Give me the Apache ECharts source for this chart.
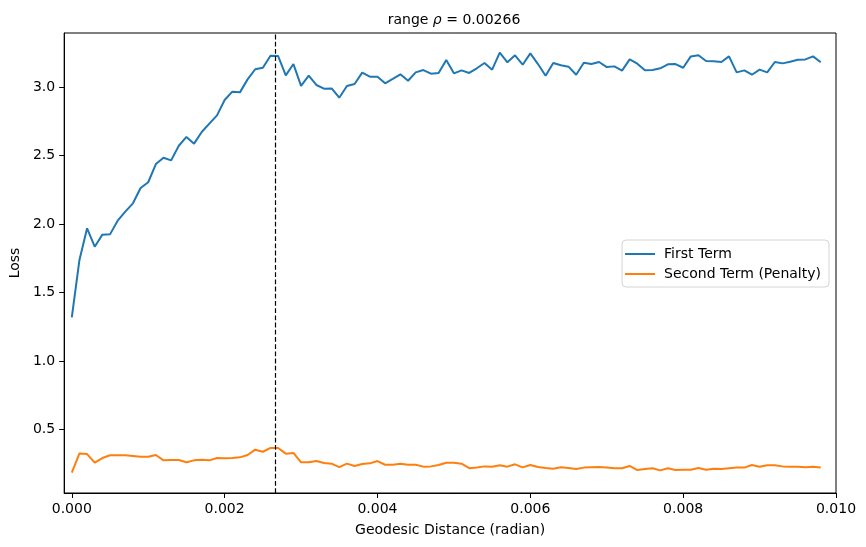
<!DOCTYPE html>
<html>
<head>
<meta charset="utf-8">
<script src="https://cdn.jsdelivr.net/npm/echarts@6/dist/echarts.min.js"></script>
<style>
html,body{margin:0;padding:0;background:#fff;}
#chart{width:866px;height:547px;}
</style>
</head>
<body>
<div id="chart"></div>
<script>
// Data
const distances = [0,0.0001,0.0002,0.0003,0.0004,0.0005,0.0006,0.0007,0.0008,0.0009,
0.0010,0.0011,0.0012,0.0013,0.0014,0.0015,0.0016,0.0017,0.0018,0.0019,
0.0020,0.0021,0.0022,0.0023,0.0024,0.0025,0.0026,0.0027,0.0028,0.0029,
0.0030,0.0031,0.0032,0.0033,0.0034,0.0035,0.0036,0.0037,0.0038,0.0039,
0.0040,0.0041,0.0042,0.0043,0.0044,0.0045,0.0046,0.0047,0.0048,0.0049,
0.0050,0.0051,0.0052,0.0053,0.0054,0.0055,0.0056,0.0057,0.0058,0.0059,
0.0060,0.0061,0.0062,0.0063,0.0064,0.0065,0.0066,0.0067,0.0068,0.0069,
0.0070,0.0071,0.0072,0.0073,0.0074,0.0075,0.0076,0.0077,0.0078,0.0079,
0.0080,0.0081,0.0082,0.0083,0.0084,0.0085,0.0086,0.0087,0.0088,0.0089,
0.0090,0.0091,0.0092,0.0093,0.0094,0.0095,0.0096,0.0097,0.0098];

const firstTerm = [1.319,1.738,1.969,1.835,1.923,1.925,2.025,2.091,2.152,2.264,
2.306,2.439,2.485,2.466,2.573,2.637,2.588,2.673,2.734,2.795,
2.907,2.968,2.963,3.058,3.132,3.143,3.231,3.228,3.087,3.170,
3.010,3.085,3.017,2.990,2.992,2.924,3.010,3.024,3.107,3.078,
3.078,3.029,3.061,3.095,3.048,3.109,3.126,3.100,3.105,3.200,
3.102,3.124,3.105,3.139,3.178,3.129,3.253,3.183,3.234,3.165,
3.248,3.170,3.085,3.178,3.161,3.151,3.092,3.180,3.170,3.185,
3.148,3.153,3.122,3.204,3.173,3.124,3.126,3.139,3.168,3.170,
3.143,3.226,3.234,3.192,3.190,3.185,3.226,3.109,3.124,3.092,
3.129,3.109,3.185,3.175,3.187,3.202,3.204,3.226,3.183];

const secondTerm = [0.183,0.324,0.319,0.256,0.290,0.310,0.310,0.310,0.305,0.300,
0.300,0.312,0.273,0.276,0.276,0.259,0.273,0.278,0.273,0.290,
0.288,0.290,0.295,0.312,0.351,0.336,0.364,0.363,0.322,0.327,
0.259,0.259,0.268,0.254,0.249,0.224,0.249,0.232,0.246,0.251,
0.268,0.241,0.241,0.249,0.241,0.241,0.227,0.229,0.239,0.256,
0.256,0.249,0.216,0.221,0.229,0.227,0.237,0.227,0.244,0.222,
0.239,0.224,0.217,0.212,0.222,0.217,0.210,0.220,0.222,0.224,
0.220,0.215,0.215,0.232,0.202,0.210,0.215,0.200,0.215,0.202,
0.205,0.205,0.217,0.205,0.212,0.210,0.215,0.220,0.220,0.239,
0.227,0.237,0.237,0.229,0.227,0.227,0.222,0.227,0.220];

const rangeRho = 0.00266;
const xTicks = [0, 0.002, 0.004, 0.006, 0.008, 0.010];
const yTicks = [0.5, 1.0, 1.5, 2.0, 2.5, 3.0];
const seriesNames = ['First Term', 'Second Term (Penalty)'];

const FONT = 'DejaVu Sans';
const X_MIN = -0.0001, X_MAX = 0.010, Y_MIN = 0.0344, Y_MAX = 3.397;
const chart = echarts.init(document.getElementById('chart'), null, {renderer: 'canvas'});

const pairs = arr => distances.map((d, i) => [d, arr[i]]);

chart.setOption({
  animation: false,
  backgroundColor: '#fff',
  title: {
    text: '{n|range }{r|ρ}{n| = 0.00266}',
    left: 449, top: 8, textAlign: 'center',
    textStyle: {
      fontWeight: 'normal',
      rich: {
        n: {fontFamily: FONT, fontSize: 14, color: '#000', fontWeight: 'normal'},
        r: {fontFamily: FONT, fontSize: 14, color: '#000', fontStyle: 'italic', fontWeight: 'normal'}
      }
    }
  },
  grid: {left: 62, right: 30, top: 33, bottom: 54, show: true, borderColor: '#000', borderWidth: 1, containLabel: false},
  legend: {
    orient: 'vertical', right: 37, top: 240,
    data: seriesNames,
    icon: 'rect',
    itemWidth: 30, itemHeight: 2, itemGap: 4,
    padding: [6, 8, 5, 3],
    borderColor: '#d4d4d4', borderWidth: 1, borderRadius: 4,
    backgroundColor: 'rgba(255,255,255,0.8)',
    textStyle: {fontFamily: FONT, fontSize: 14, color: '#000', padding: [0,0,0,4], lineHeight: 16}
  },
  xAxis: {
    type: 'value', min: X_MIN, max: X_MAX,
    name: 'Geodesic Distance (radian)', nameLocation: 'middle', nameGap: 30,
    nameTextStyle: {fontFamily: FONT, fontSize: 14, color: '#000'},
    axisLine: {show: true, onZero: false, lineStyle: {color: '#000', width: 1}},
    axisTick: {show: true, length: 5, customValues: xTicks, lineStyle: {color: '#000'}},
    axisLabel: {customValues: xTicks, margin: 9, fontFamily: FONT, fontSize: 14, color: '#000',
      formatter: v => v.toFixed(3)},
    splitLine: {show: false}
  },
  yAxis: {
    type: 'value', min: Y_MIN, max: Y_MAX,
    name: 'Loss', nameLocation: 'middle', nameGap: 38,
    nameTextStyle: {fontFamily: FONT, fontSize: 14, color: '#000'},
    axisLine: {show: true, onZero: false, lineStyle: {color: '#000', width: 1}},
    axisTick: {show: true, length: 5, customValues: yTicks, lineStyle: {color: '#000'}},
    axisLabel: {customValues: yTicks, margin: 9, fontFamily: FONT, fontSize: 14, color: '#000',
      formatter: v => v.toFixed(1)},
    splitLine: {show: false}
  },
  series: [
    {
      name: seriesNames[0], type: 'line', data: pairs(firstTerm),
      symbol: 'none', color: '#1f77b4',
      lineStyle: {width: 2, color: '#1f77b4'},
      z: 3
    },
    {
      name: seriesNames[1], type: 'line', data: pairs(secondTerm),
      symbol: 'none', color: '#ff7f0e',
      lineStyle: {width: 2, color: '#ff7f0e'},
      z: 3,
      markLine: {
        silent: true, symbol: ['none', 'none'], label: {show: false},
        animation: false,
        lineStyle: {type: 'dashed', color: '#000', width: 1.2, opacity: 1},
        emphasis: {disabled: true},
        data: [[{coord: [rangeRho, Y_MIN]}, {coord: [rangeRho, Y_MAX]}]]
      }
    }
  ]
});
</script>
</body>
</html>
